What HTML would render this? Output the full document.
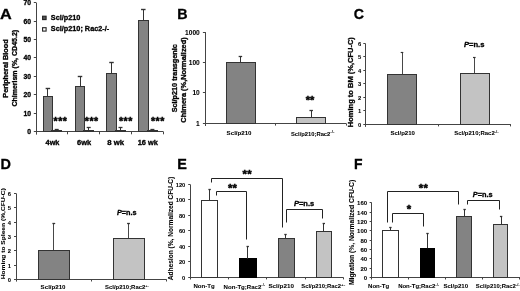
<!DOCTYPE html>
<html><head><meta charset="utf-8"><style>
html,body{margin:0;padding:0;background:#fff;}
body{width:520px;height:291px;overflow:hidden;}
svg{display:block;filter:blur(0.3px);}
text{font-family:"Liberation Sans", sans-serif;font-weight:bold;fill:#000;}
</style></head><body>
<svg width="520" height="291" viewBox="0 0 520 291">
<rect width="520" height="291" fill="#fff"/>
<text stroke="#000" stroke-width="0.3" x="-0.02" y="19.00" font-size="15.30" textLength="11.74" lengthAdjust="spacingAndGlyphs">A</text>
<line x1="36.50" y1="2.60" x2="36.50" y2="134.50" stroke="#444" stroke-width="1"/>
<line x1="33.80" y1="131.50" x2="36.10" y2="131.50" stroke="#444" stroke-width="1"/>
<text stroke="#000" stroke-width="0.3" x="31.07" y="133.93" font-size="6.80" text-anchor="end">0</text>
<line x1="33.80" y1="113.50" x2="36.10" y2="113.50" stroke="#444" stroke-width="1"/>
<text stroke="#000" stroke-width="0.3" x="31.07" y="115.93" font-size="6.80" text-anchor="end">10</text>
<line x1="33.80" y1="94.50" x2="36.10" y2="94.50" stroke="#444" stroke-width="1"/>
<text stroke="#000" stroke-width="0.3" x="31.07" y="96.93" font-size="6.80" text-anchor="end">20</text>
<line x1="33.80" y1="76.50" x2="36.10" y2="76.50" stroke="#444" stroke-width="1"/>
<text stroke="#000" stroke-width="0.3" x="31.07" y="78.93" font-size="6.80" text-anchor="end">30</text>
<line x1="33.80" y1="57.50" x2="36.10" y2="57.50" stroke="#444" stroke-width="1"/>
<text stroke="#000" stroke-width="0.3" x="31.07" y="59.93" font-size="6.80" text-anchor="end">40</text>
<line x1="33.80" y1="39.50" x2="36.10" y2="39.50" stroke="#444" stroke-width="1"/>
<text stroke="#000" stroke-width="0.3" x="31.07" y="41.93" font-size="6.80" text-anchor="end">50</text>
<line x1="33.80" y1="21.50" x2="36.10" y2="21.50" stroke="#444" stroke-width="1"/>
<text stroke="#000" stroke-width="0.3" x="31.07" y="23.93" font-size="6.80" text-anchor="end">60</text>
<line x1="33.80" y1="2.50" x2="36.10" y2="2.50" stroke="#444" stroke-width="1"/>
<text stroke="#000" stroke-width="0.3" x="31.07" y="4.93" font-size="6.80" text-anchor="end">70</text>
<line x1="36.10" y1="131.50" x2="163.20" y2="131.50" stroke="#444" stroke-width="1"/>
<line x1="36.50" y1="131.50" x2="36.50" y2="134.30" stroke="#444" stroke-width="1"/>
<line x1="67.50" y1="131.50" x2="67.50" y2="134.30" stroke="#444" stroke-width="1"/>
<line x1="99.50" y1="131.50" x2="99.50" y2="134.30" stroke="#444" stroke-width="1"/>
<line x1="131.50" y1="131.50" x2="131.50" y2="134.30" stroke="#444" stroke-width="1"/>
<line x1="163.50" y1="131.50" x2="163.50" y2="134.30" stroke="#444" stroke-width="1"/>
<rect x="43.50" y="96.50" width="9.00" height="35.00" fill="#838383" stroke="#333" stroke-width="1"/>
<line x1="47.50" y1="88.80" x2="47.50" y2="96.00" stroke="#333" stroke-width="1"/>
<line x1="45.65" y1="88.50" x2="50.15" y2="88.50" stroke="#333" stroke-width="1.4"/>
<rect x="51.50" y="130.50" width="10.00" height="1.00" fill="#ffffff" stroke="#333" stroke-width="1"/>
<line x1="56.50" y1="129.80" x2="56.50" y2="130.50" stroke="#333" stroke-width="1"/>
<line x1="54.70" y1="129.50" x2="58.70" y2="129.50" stroke="#333" stroke-width="1.3"/>
<text stroke="#000" stroke-width="0.45" class="st" x="55.60" y="125.15" font-size="10.50" text-anchor="middle">*</text>
<text stroke="#000" stroke-width="0.45" class="st" x="60.20" y="125.15" font-size="10.50" text-anchor="middle">*</text>
<text stroke="#000" stroke-width="0.45" class="st" x="64.80" y="125.15" font-size="10.50" text-anchor="middle">*</text>
<rect x="75.50" y="86.50" width="9.00" height="45.00" fill="#838383" stroke="#333" stroke-width="1"/>
<line x1="80.50" y1="76.70" x2="80.50" y2="86.10" stroke="#333" stroke-width="1"/>
<line x1="77.75" y1="76.50" x2="82.25" y2="76.50" stroke="#333" stroke-width="1.4"/>
<rect x="83.50" y="130.50" width="10.00" height="1.00" fill="#ffffff" stroke="#333" stroke-width="1"/>
<line x1="88.50" y1="127.60" x2="88.50" y2="130.50" stroke="#333" stroke-width="1"/>
<line x1="86.70" y1="127.50" x2="90.70" y2="127.50" stroke="#333" stroke-width="1.3"/>
<text stroke="#000" stroke-width="0.45" class="st" x="86.90" y="125.15" font-size="10.50" text-anchor="middle">*</text>
<text stroke="#000" stroke-width="0.45" class="st" x="91.50" y="125.15" font-size="10.50" text-anchor="middle">*</text>
<text stroke="#000" stroke-width="0.45" class="st" x="96.10" y="125.15" font-size="10.50" text-anchor="middle">*</text>
<rect x="106.50" y="73.50" width="10.00" height="58.00" fill="#838383" stroke="#333" stroke-width="1"/>
<line x1="111.50" y1="62.80" x2="111.50" y2="73.00" stroke="#333" stroke-width="1"/>
<line x1="109.25" y1="62.50" x2="113.75" y2="62.50" stroke="#333" stroke-width="1.4"/>
<rect x="115.50" y="130.50" width="10.00" height="1.00" fill="#ffffff" stroke="#333" stroke-width="1"/>
<line x1="120.50" y1="127.60" x2="120.50" y2="130.50" stroke="#333" stroke-width="1"/>
<line x1="118.50" y1="127.50" x2="122.50" y2="127.50" stroke="#333" stroke-width="1.3"/>
<text stroke="#000" stroke-width="0.45" class="st" x="121.00" y="125.15" font-size="10.50" text-anchor="middle">*</text>
<text stroke="#000" stroke-width="0.45" class="st" x="125.60" y="125.15" font-size="10.50" text-anchor="middle">*</text>
<text stroke="#000" stroke-width="0.45" class="st" x="130.20" y="125.15" font-size="10.50" text-anchor="middle">*</text>
<rect x="138.50" y="20.50" width="10.00" height="111.00" fill="#838383" stroke="#333" stroke-width="1"/>
<line x1="143.50" y1="9.50" x2="143.50" y2="20.20" stroke="#333" stroke-width="1"/>
<line x1="141.05" y1="9.50" x2="145.55" y2="9.50" stroke="#333" stroke-width="1.4"/>
<rect x="147.50" y="130.50" width="10.00" height="1.00" fill="#ffffff" stroke="#333" stroke-width="1"/>
<line x1="152.50" y1="129.80" x2="152.50" y2="130.50" stroke="#333" stroke-width="1"/>
<line x1="150.40" y1="129.50" x2="154.40" y2="129.50" stroke="#333" stroke-width="1.3"/>
<text stroke="#000" stroke-width="0.45" class="st" x="153.00" y="125.15" font-size="10.50" text-anchor="middle">*</text>
<text stroke="#000" stroke-width="0.45" class="st" x="157.60" y="125.15" font-size="10.50" text-anchor="middle">*</text>
<text stroke="#000" stroke-width="0.45" class="st" x="162.20" y="125.15" font-size="10.50" text-anchor="middle">*</text>
<text stroke="#000" stroke-width="0.3" x="45.59" y="144.80" font-size="6.90" textLength="13.83" lengthAdjust="spacingAndGlyphs">4wk</text>
<text stroke="#000" stroke-width="0.3" x="77.09" y="144.80" font-size="6.90" textLength="14.13" lengthAdjust="spacingAndGlyphs">6wk</text>
<text stroke="#000" stroke-width="0.3" x="107.34" y="144.80" font-size="6.90" textLength="16.83" lengthAdjust="spacingAndGlyphs">8 wk</text>
<text stroke="#000" stroke-width="0.3" x="137.69" y="144.80" font-size="6.90" textLength="20.23" lengthAdjust="spacingAndGlyphs">16 wk</text>
<rect x="42.6" y="16.2" width="3.5" height="3.4" fill="#555" stroke="#222" stroke-width="1.1"/>
<rect x="42.6" y="27.7" width="3.5" height="3.4" fill="#fff" stroke="#222" stroke-width="1.1"/>
<text stroke="#000" stroke-width="0.3" x="50.77" y="19.80" font-size="7.10" textLength="29.65" lengthAdjust="spacingAndGlyphs">Scl/p210</text>
<text stroke="#000" stroke-width="0.3" x="50.77" y="31.30" font-size="7.10" textLength="58.45" lengthAdjust="spacingAndGlyphs">Scl/p210; Rac2-/-</text>
<text stroke="#000" stroke-width="0.3" transform="translate(7.90,97.63) rotate(-90)" x="0" y="0" font-size="7.10" textLength="58.35" lengthAdjust="spacingAndGlyphs">Peripheral Blood</text>
<text stroke="#000" stroke-width="0.3" transform="translate(17.40,106.62) rotate(-90)" x="0" y="0" font-size="6.95" textLength="76.73" lengthAdjust="spacingAndGlyphs">Chimerism (%, CD45.2)</text>
<text stroke="#000" stroke-width="0.3" x="177.18" y="19.00" font-size="15.30" textLength="10.34" lengthAdjust="spacingAndGlyphs">B</text>
<line x1="205.50" y1="32.10" x2="205.50" y2="126.00" stroke="#444" stroke-width="1"/>
<line x1="202.90" y1="123.50" x2="205.30" y2="123.50" stroke="#444" stroke-width="1"/>
<text stroke="#000" stroke-width="0.06" x="199.76" y="125.86" font-size="6.60" text-anchor="end">1</text>
<line x1="202.90" y1="92.50" x2="205.30" y2="92.50" stroke="#444" stroke-width="1"/>
<text stroke="#000" stroke-width="0.06" x="199.76" y="94.86" font-size="6.60" text-anchor="end">10</text>
<line x1="202.90" y1="62.50" x2="205.30" y2="62.50" stroke="#444" stroke-width="1"/>
<text stroke="#000" stroke-width="0.06" x="199.76" y="64.86" font-size="6.60" text-anchor="end">100</text>
<line x1="202.90" y1="32.50" x2="205.30" y2="32.50" stroke="#444" stroke-width="1"/>
<text stroke="#000" stroke-width="0.06" x="199.76" y="34.86" font-size="6.60" text-anchor="end">1000</text>
<line x1="205.30" y1="123.50" x2="346.00" y2="123.50" stroke="#444" stroke-width="1"/>
<line x1="275.50" y1="123.40" x2="275.50" y2="125.60" stroke="#444" stroke-width="1"/>
<line x1="346.50" y1="123.40" x2="346.50" y2="125.60" stroke="#444" stroke-width="1"/>
<rect x="226.50" y="62.50" width="29.00" height="61.00" fill="#838383" stroke="#333" stroke-width="1"/>
<line x1="240.50" y1="56.40" x2="240.50" y2="62.30" stroke="#333" stroke-width="1"/>
<line x1="238.65" y1="56.50" x2="242.15" y2="56.50" stroke="#333" stroke-width="1.3"/>
<rect x="296.50" y="117.50" width="29.00" height="6.00" fill="#c3c3c3" stroke="#333" stroke-width="1"/>
<line x1="311.50" y1="110.90" x2="311.50" y2="117.20" stroke="#333" stroke-width="1"/>
<line x1="309.45" y1="110.50" x2="312.95" y2="110.50" stroke="#333" stroke-width="1.3"/>
<text stroke="#000" stroke-width="0.45" class="st" x="308.00" y="103.70" font-size="11.00" text-anchor="middle">*</text>
<text stroke="#000" stroke-width="0.45" class="st" x="312.20" y="103.70" font-size="11.00" text-anchor="middle">*</text>
<text stroke="#000" stroke-width="0.06" x="226.64" y="135.10" font-size="5.95" textLength="24.91" lengthAdjust="spacingAndGlyphs">Scl/p210</text>
<text stroke="#000" stroke-width="0.06" x="290.94" y="135.50" font-size="5.95" textLength="39.41" lengthAdjust="spacingAndGlyphs">Scl/p210;Rac2</text>
<text x="330.30" y="133.20" font-size="3.60" textLength="4.20" lengthAdjust="spacingAndGlyphs">-/-</text>
<text stroke="#000" stroke-width="0.3" transform="translate(177.00,112.33) rotate(-90)" x="0" y="0" font-size="7.15" textLength="68.16" lengthAdjust="spacingAndGlyphs">Scl/p210 transgenic</text>
<text stroke="#000" stroke-width="0.3" transform="translate(186.00,122.64) rotate(-90)" x="0" y="0" font-size="7.30" textLength="85.38" lengthAdjust="spacingAndGlyphs">Chimera (%,Normalized)</text>
<text stroke="#000" stroke-width="0.3" x="353.68" y="19.00" font-size="15.30" textLength="10.24" lengthAdjust="spacingAndGlyphs">C</text>
<line x1="365.50" y1="43.40" x2="365.50" y2="126.90" stroke="#444" stroke-width="1"/>
<line x1="363.30" y1="124.50" x2="365.30" y2="124.50" stroke="#444" stroke-width="1"/>
<text stroke="#000" stroke-width="0.06" x="361.23" y="126.58" font-size="5.80" text-anchor="end">0</text>
<line x1="363.30" y1="110.50" x2="365.30" y2="110.50" stroke="#444" stroke-width="1"/>
<text stroke="#000" stroke-width="0.06" x="361.23" y="112.58" font-size="5.80" text-anchor="end">1</text>
<line x1="363.30" y1="97.50" x2="365.30" y2="97.50" stroke="#444" stroke-width="1"/>
<text stroke="#000" stroke-width="0.06" x="361.23" y="99.58" font-size="5.80" text-anchor="end">2</text>
<line x1="363.30" y1="83.50" x2="365.30" y2="83.50" stroke="#444" stroke-width="1"/>
<text stroke="#000" stroke-width="0.06" x="361.23" y="85.58" font-size="5.80" text-anchor="end">3</text>
<line x1="363.30" y1="70.50" x2="365.30" y2="70.50" stroke="#444" stroke-width="1"/>
<text stroke="#000" stroke-width="0.06" x="361.23" y="72.58" font-size="5.80" text-anchor="end">4</text>
<line x1="363.30" y1="56.50" x2="365.30" y2="56.50" stroke="#444" stroke-width="1"/>
<text stroke="#000" stroke-width="0.06" x="361.23" y="58.58" font-size="5.80" text-anchor="end">5</text>
<line x1="363.30" y1="43.50" x2="365.30" y2="43.50" stroke="#444" stroke-width="1"/>
<text stroke="#000" stroke-width="0.06" x="361.23" y="45.58" font-size="5.80" text-anchor="end">6</text>
<line x1="365.30" y1="124.50" x2="510.90" y2="124.50" stroke="#444" stroke-width="1"/>
<line x1="438.50" y1="124.40" x2="438.50" y2="126.40" stroke="#444" stroke-width="1"/>
<line x1="510.50" y1="124.40" x2="510.50" y2="126.40" stroke="#444" stroke-width="1"/>
<rect x="387.50" y="74.50" width="29.00" height="50.00" fill="#838383" stroke="#333" stroke-width="1"/>
<line x1="402.50" y1="52.90" x2="402.50" y2="74.60" stroke="#333" stroke-width="0.9"/>
<line x1="400.70" y1="52.50" x2="403.30" y2="52.50" stroke="#333" stroke-width="1.2"/>
<rect x="460.50" y="73.50" width="29.00" height="51.00" fill="#c3c3c3" stroke="#333" stroke-width="1"/>
<line x1="474.50" y1="57.40" x2="474.50" y2="73.00" stroke="#333" stroke-width="0.9"/>
<line x1="473.00" y1="57.50" x2="475.60" y2="57.50" stroke="#333" stroke-width="1.2"/>
<text stroke="#000" stroke-width="0.3" x="463.97" y="47.30" font-size="7.10" textLength="20.45" lengthAdjust="spacingAndGlyphs"><tspan font-style="italic">P</tspan>=n.s</text>
<text stroke="#000" stroke-width="0.06" x="390.45" y="135.10" font-size="5.90" textLength="24.51" lengthAdjust="spacingAndGlyphs">Scl/p210</text>
<text stroke="#000" stroke-width="0.06" x="454.25" y="135.20" font-size="5.90" textLength="40.51" lengthAdjust="spacingAndGlyphs">Scl/p210;Rac2</text>
<text x="494.70" y="132.90" font-size="3.60" textLength="4.00" lengthAdjust="spacingAndGlyphs">-/-</text>
<text stroke="#000" stroke-width="0.3" transform="translate(352.80,127.14) rotate(-90)" x="0" y="0" font-size="7.40" textLength="89.99" lengthAdjust="spacingAndGlyphs">Homing to BM (%,CFU-C)</text>
<text stroke="#000" stroke-width="0.3" x="0.48" y="168.80" font-size="15.30" textLength="10.44" lengthAdjust="spacingAndGlyphs">D</text>
<line x1="16.50" y1="193.40" x2="16.50" y2="281.60" stroke="#444" stroke-width="1"/>
<line x1="14.00" y1="279.50" x2="16.10" y2="279.50" stroke="#444" stroke-width="1"/>
<text stroke="#000" stroke-width="0.06" x="11.03" y="281.58" font-size="5.80" text-anchor="end">0</text>
<line x1="14.00" y1="265.50" x2="16.10" y2="265.50" stroke="#444" stroke-width="1"/>
<text stroke="#000" stroke-width="0.06" x="11.03" y="267.58" font-size="5.80" text-anchor="end">1</text>
<line x1="14.00" y1="250.50" x2="16.10" y2="250.50" stroke="#444" stroke-width="1"/>
<text stroke="#000" stroke-width="0.06" x="11.03" y="252.58" font-size="5.80" text-anchor="end">2</text>
<line x1="14.00" y1="236.50" x2="16.10" y2="236.50" stroke="#444" stroke-width="1"/>
<text stroke="#000" stroke-width="0.06" x="11.03" y="238.58" font-size="5.80" text-anchor="end">3</text>
<line x1="14.00" y1="222.50" x2="16.10" y2="222.50" stroke="#444" stroke-width="1"/>
<text stroke="#000" stroke-width="0.06" x="11.03" y="224.58" font-size="5.80" text-anchor="end">4</text>
<line x1="14.00" y1="207.50" x2="16.10" y2="207.50" stroke="#444" stroke-width="1"/>
<text stroke="#000" stroke-width="0.06" x="11.03" y="209.58" font-size="5.80" text-anchor="end">5</text>
<line x1="14.00" y1="193.50" x2="16.10" y2="193.50" stroke="#444" stroke-width="1"/>
<text stroke="#000" stroke-width="0.06" x="11.03" y="195.58" font-size="5.80" text-anchor="end">6</text>
<line x1="16.10" y1="279.50" x2="166.60" y2="279.50" stroke="#444" stroke-width="1"/>
<line x1="91.50" y1="279.40" x2="91.50" y2="281.50" stroke="#444" stroke-width="1"/>
<line x1="166.50" y1="279.40" x2="166.50" y2="281.50" stroke="#444" stroke-width="1"/>
<rect x="38.50" y="250.50" width="31.00" height="29.00" fill="#838383" stroke="#333" stroke-width="1"/>
<line x1="53.50" y1="223.20" x2="53.50" y2="250.00" stroke="#333" stroke-width="0.9"/>
<line x1="52.40" y1="223.50" x2="55.20" y2="223.50" stroke="#333" stroke-width="1.3"/>
<rect x="113.50" y="238.50" width="31.00" height="41.00" fill="#c3c3c3" stroke="#333" stroke-width="1"/>
<line x1="128.50" y1="223.30" x2="128.50" y2="238.10" stroke="#333" stroke-width="0.9"/>
<line x1="127.10" y1="223.50" x2="129.90" y2="223.50" stroke="#333" stroke-width="1.3"/>
<text stroke="#000" stroke-width="0.3" x="116.98" y="214.80" font-size="6.95" textLength="19.53" lengthAdjust="spacingAndGlyphs"><tspan font-style="italic">P</tspan>=n.s</text>
<text stroke="#000" stroke-width="0.06" x="40.64" y="289.10" font-size="5.95" textLength="24.91" lengthAdjust="spacingAndGlyphs">Scl/p210</text>
<text stroke="#000" stroke-width="0.06" x="105.04" y="289.40" font-size="5.95" textLength="40.31" lengthAdjust="spacingAndGlyphs">Scl/p210;Rac2</text>
<text x="145.30" y="287.10" font-size="3.60" textLength="3.40" lengthAdjust="spacingAndGlyphs">+-</text>
<text stroke="#000" stroke-width="0.06" transform="translate(5.40,279.37) rotate(-90)" x="0" y="0" font-size="6.20" textLength="91.14" lengthAdjust="spacingAndGlyphs">Homing to Spleen (%,CFU-C)</text>
<text stroke="#000" stroke-width="0.3" x="177.18" y="168.80" font-size="15.30" textLength="9.64" lengthAdjust="spacingAndGlyphs">E</text>
<line x1="190.50" y1="184.50" x2="190.50" y2="279.50" stroke="#444" stroke-width="1"/>
<line x1="188.20" y1="277.50" x2="190.30" y2="277.50" stroke="#444" stroke-width="1"/>
<text stroke="#000" stroke-width="0.06" x="185.23" y="279.54" font-size="5.70" text-anchor="end">0</text>
<line x1="188.20" y1="261.50" x2="190.30" y2="261.50" stroke="#444" stroke-width="1"/>
<text stroke="#000" stroke-width="0.06" x="185.23" y="263.54" font-size="5.70" text-anchor="end">20</text>
<line x1="188.20" y1="246.50" x2="190.30" y2="246.50" stroke="#444" stroke-width="1"/>
<text stroke="#000" stroke-width="0.06" x="185.23" y="248.54" font-size="5.70" text-anchor="end">40</text>
<line x1="188.20" y1="230.50" x2="190.30" y2="230.50" stroke="#444" stroke-width="1"/>
<text stroke="#000" stroke-width="0.06" x="185.23" y="232.54" font-size="5.70" text-anchor="end">60</text>
<line x1="188.20" y1="215.50" x2="190.30" y2="215.50" stroke="#444" stroke-width="1"/>
<text stroke="#000" stroke-width="0.06" x="185.23" y="217.54" font-size="5.70" text-anchor="end">80</text>
<line x1="188.20" y1="199.50" x2="190.30" y2="199.50" stroke="#444" stroke-width="1"/>
<text stroke="#000" stroke-width="0.06" x="185.23" y="201.54" font-size="5.70" text-anchor="end">100</text>
<line x1="188.20" y1="184.50" x2="190.30" y2="184.50" stroke="#444" stroke-width="1"/>
<text stroke="#000" stroke-width="0.06" x="185.23" y="186.54" font-size="5.70" text-anchor="end">120</text>
<line x1="190.30" y1="277.50" x2="343.30" y2="277.50" stroke="#444" stroke-width="1"/>
<line x1="228.50" y1="277.30" x2="228.50" y2="279.40" stroke="#444" stroke-width="1"/>
<line x1="266.50" y1="277.30" x2="266.50" y2="279.40" stroke="#444" stroke-width="1"/>
<line x1="305.50" y1="277.30" x2="305.50" y2="279.40" stroke="#444" stroke-width="1"/>
<line x1="343.50" y1="277.30" x2="343.50" y2="279.40" stroke="#444" stroke-width="1"/>
<rect x="201.50" y="200.50" width="16.00" height="77.00" fill="#ffffff" stroke="#333" stroke-width="1"/>
<line x1="209.50" y1="189.20" x2="209.50" y2="200.00" stroke="#333" stroke-width="1"/>
<line x1="208.40" y1="189.50" x2="210.80" y2="189.50" stroke="#333" stroke-width="1.3"/>
<rect x="239.50" y="258.50" width="17.00" height="19.00" fill="#000000" stroke="#000" stroke-width="1"/>
<line x1="247.50" y1="246.70" x2="247.50" y2="258.80" stroke="#333" stroke-width="1"/>
<line x1="246.50" y1="246.50" x2="248.90" y2="246.50" stroke="#333" stroke-width="1.3"/>
<rect x="278.50" y="238.50" width="16.00" height="39.00" fill="#838383" stroke="#333" stroke-width="1"/>
<line x1="285.50" y1="234.50" x2="285.50" y2="238.10" stroke="#333" stroke-width="1"/>
<line x1="284.30" y1="234.50" x2="286.70" y2="234.50" stroke="#333" stroke-width="1.3"/>
<rect x="316.50" y="231.50" width="15.00" height="46.00" fill="#c3c3c3" stroke="#333" stroke-width="1"/>
<line x1="323.50" y1="223.10" x2="323.50" y2="231.20" stroke="#333" stroke-width="1"/>
<line x1="322.60" y1="223.50" x2="325.00" y2="223.50" stroke="#333" stroke-width="1.3"/>
<polyline points="211.50,182.50 211.50,178.50 282.50,178.50 282.50,227.50" fill="none" stroke="#222" stroke-width="1"/>
<polyline points="216.50,195.50 216.50,191.50 246.50,191.50 246.50,239.50" fill="none" stroke="#222" stroke-width="1"/>
<polyline points="286.50,222.50 286.50,209.50 322.50,209.50 322.50,218.50" fill="none" stroke="#222" stroke-width="1"/>
<text stroke="#000" stroke-width="0.45" class="st" x="244.80" y="178.45" font-size="11.30" text-anchor="middle">*</text>
<text stroke="#000" stroke-width="0.45" class="st" x="249.40" y="178.45" font-size="11.30" text-anchor="middle">*</text>
<text stroke="#000" stroke-width="0.45" class="st" x="230.20" y="191.75" font-size="11.30" text-anchor="middle">*</text>
<text stroke="#000" stroke-width="0.45" class="st" x="234.80" y="191.75" font-size="11.30" text-anchor="middle">*</text>
<text stroke="#000" stroke-width="0.3" x="293.97" y="205.80" font-size="7.20" textLength="20.26" lengthAdjust="spacingAndGlyphs"><tspan font-style="italic">P</tspan>=n.s</text>
<text stroke="#000" stroke-width="0.06" x="193.45" y="288.20" font-size="5.90" textLength="21.21" lengthAdjust="spacingAndGlyphs">Non-Tg</text>
<text stroke="#000" stroke-width="0.06" x="223.64" y="288.50" font-size="5.95" textLength="37.71" lengthAdjust="spacingAndGlyphs">Non-Tg;Rac2</text>
<text x="261.30" y="286.20" font-size="3.60" textLength="3.80" lengthAdjust="spacingAndGlyphs">-/-</text>
<text stroke="#000" stroke-width="0.06" x="268.44" y="288.30" font-size="6.05" textLength="25.43" lengthAdjust="spacingAndGlyphs">Scl/p210</text>
<text stroke="#000" stroke-width="0.06" x="301.24" y="288.30" font-size="6.05" textLength="39.73" lengthAdjust="spacingAndGlyphs">Scl/p210;Rac2</text>
<text x="340.90" y="286.00" font-size="3.60" textLength="4.30" lengthAdjust="spacingAndGlyphs">+-</text>
<text stroke="#000" stroke-width="0.06" transform="translate(172.70,280.29) rotate(-90)" x="0" y="0" font-size="6.45" textLength="103.47" lengthAdjust="spacingAndGlyphs">Adhesion  (%, Normalized CFU-C)</text>
<text stroke="#000" stroke-width="0.3" x="353.88" y="168.80" font-size="15.30" textLength="8.54" lengthAdjust="spacingAndGlyphs">F</text>
<line x1="371.50" y1="202.70" x2="371.50" y2="279.50" stroke="#444" stroke-width="1"/>
<line x1="369.60" y1="277.50" x2="371.70" y2="277.50" stroke="#444" stroke-width="1"/>
<text stroke="#000" stroke-width="0.06" x="367.14" y="279.65" font-size="6.00" text-anchor="end">0</text>
<line x1="369.60" y1="268.50" x2="371.70" y2="268.50" stroke="#444" stroke-width="1"/>
<text stroke="#000" stroke-width="0.06" x="367.14" y="270.65" font-size="6.00" text-anchor="end">20</text>
<line x1="369.60" y1="258.50" x2="371.70" y2="258.50" stroke="#444" stroke-width="1"/>
<text stroke="#000" stroke-width="0.06" x="367.14" y="260.65" font-size="6.00" text-anchor="end">40</text>
<line x1="369.60" y1="249.50" x2="371.70" y2="249.50" stroke="#444" stroke-width="1"/>
<text stroke="#000" stroke-width="0.06" x="367.14" y="251.65" font-size="6.00" text-anchor="end">60</text>
<line x1="369.60" y1="240.50" x2="371.70" y2="240.50" stroke="#444" stroke-width="1"/>
<text stroke="#000" stroke-width="0.06" x="367.14" y="242.65" font-size="6.00" text-anchor="end">80</text>
<line x1="369.60" y1="230.50" x2="371.70" y2="230.50" stroke="#444" stroke-width="1"/>
<text stroke="#000" stroke-width="0.06" x="367.14" y="232.65" font-size="6.00" text-anchor="end">100</text>
<line x1="369.60" y1="221.50" x2="371.70" y2="221.50" stroke="#444" stroke-width="1"/>
<text stroke="#000" stroke-width="0.06" x="367.14" y="223.65" font-size="6.00" text-anchor="end">120</text>
<line x1="369.60" y1="212.50" x2="371.70" y2="212.50" stroke="#444" stroke-width="1"/>
<text stroke="#000" stroke-width="0.06" x="367.14" y="214.65" font-size="6.00" text-anchor="end">140</text>
<line x1="369.60" y1="202.50" x2="371.70" y2="202.50" stroke="#444" stroke-width="1"/>
<text stroke="#000" stroke-width="0.06" x="367.14" y="204.65" font-size="6.00" text-anchor="end">160</text>
<line x1="371.70" y1="277.50" x2="520.00" y2="277.50" stroke="#444" stroke-width="1"/>
<line x1="408.50" y1="277.40" x2="408.50" y2="279.50" stroke="#444" stroke-width="1"/>
<line x1="445.50" y1="277.40" x2="445.50" y2="279.50" stroke="#444" stroke-width="1"/>
<line x1="482.50" y1="277.40" x2="482.50" y2="279.50" stroke="#444" stroke-width="1"/>
<line x1="519.50" y1="277.40" x2="519.50" y2="279.50" stroke="#444" stroke-width="1"/>
<rect x="382.50" y="230.50" width="16.00" height="47.00" fill="#ffffff" stroke="#333" stroke-width="1"/>
<line x1="390.50" y1="227.80" x2="390.50" y2="230.50" stroke="#333" stroke-width="1"/>
<line x1="389.20" y1="227.50" x2="391.60" y2="227.50" stroke="#333" stroke-width="1.3"/>
<rect x="420.50" y="248.50" width="14.00" height="29.00" fill="#000000" stroke="#000" stroke-width="1"/>
<line x1="427.50" y1="233.00" x2="427.50" y2="248.20" stroke="#333" stroke-width="1"/>
<line x1="426.30" y1="233.50" x2="428.70" y2="233.50" stroke="#333" stroke-width="1.3"/>
<rect x="456.50" y="216.50" width="15.00" height="61.00" fill="#838383" stroke="#333" stroke-width="1"/>
<line x1="464.50" y1="209.90" x2="464.50" y2="216.80" stroke="#333" stroke-width="1"/>
<line x1="463.40" y1="209.50" x2="465.80" y2="209.50" stroke="#333" stroke-width="1.3"/>
<rect x="493.50" y="224.50" width="14.00" height="53.00" fill="#c3c3c3" stroke="#333" stroke-width="1"/>
<line x1="501.50" y1="216.50" x2="501.50" y2="224.20" stroke="#333" stroke-width="1"/>
<line x1="499.90" y1="216.50" x2="502.30" y2="216.50" stroke="#333" stroke-width="1.3"/>
<polyline points="387.50,222.50 387.50,191.50 458.50,191.50 458.50,204.50" fill="none" stroke="#222" stroke-width="1"/>
<polyline points="392.50,222.50 392.50,213.50 423.50,213.50 423.50,226.50" fill="none" stroke="#222" stroke-width="1"/>
<polyline points="467.50,204.50 467.50,200.50 499.50,200.50 499.50,209.50" fill="none" stroke="#222" stroke-width="1"/>
<text stroke="#000" stroke-width="0.45" class="st" x="421.00" y="191.95" font-size="11.30" text-anchor="middle">*</text>
<text stroke="#000" stroke-width="0.45" class="st" x="425.60" y="191.95" font-size="11.30" text-anchor="middle">*</text>
<text stroke="#000" stroke-width="0.45" class="st" x="409.00" y="213.15" font-size="11.30" text-anchor="middle">*</text>
<text stroke="#000" stroke-width="0.3" x="472.78" y="197.00" font-size="7.00" textLength="19.74" lengthAdjust="spacingAndGlyphs"><tspan font-style="italic">P</tspan>=n.s</text>
<text stroke="#000" stroke-width="0.06" x="368.05" y="288.20" font-size="5.85" textLength="21.10" lengthAdjust="spacingAndGlyphs">Non-Tg</text>
<text stroke="#000" stroke-width="0.06" x="398.15" y="288.20" font-size="5.85" textLength="37.20" lengthAdjust="spacingAndGlyphs">Non-Tg;Rac2</text>
<text x="435.30" y="285.90" font-size="3.60" textLength="3.80" lengthAdjust="spacingAndGlyphs">-/-</text>
<text stroke="#000" stroke-width="0.06" x="443.45" y="288.20" font-size="5.90" textLength="24.61" lengthAdjust="spacingAndGlyphs">Scl/p210</text>
<text stroke="#000" stroke-width="0.06" x="475.85" y="288.20" font-size="5.90" textLength="40.01" lengthAdjust="spacingAndGlyphs">Scl/p210;Rac2</text>
<text x="515.80" y="285.90" font-size="3.60" textLength="4.00" lengthAdjust="spacingAndGlyphs">-/-</text>
<text stroke="#000" stroke-width="0.06" transform="translate(353.80,284.99) rotate(-90)" x="0" y="0" font-size="6.55" textLength="105.19" lengthAdjust="spacingAndGlyphs">Migration  (%, Normalized CFU-C)</text>
</svg>
</body></html>
